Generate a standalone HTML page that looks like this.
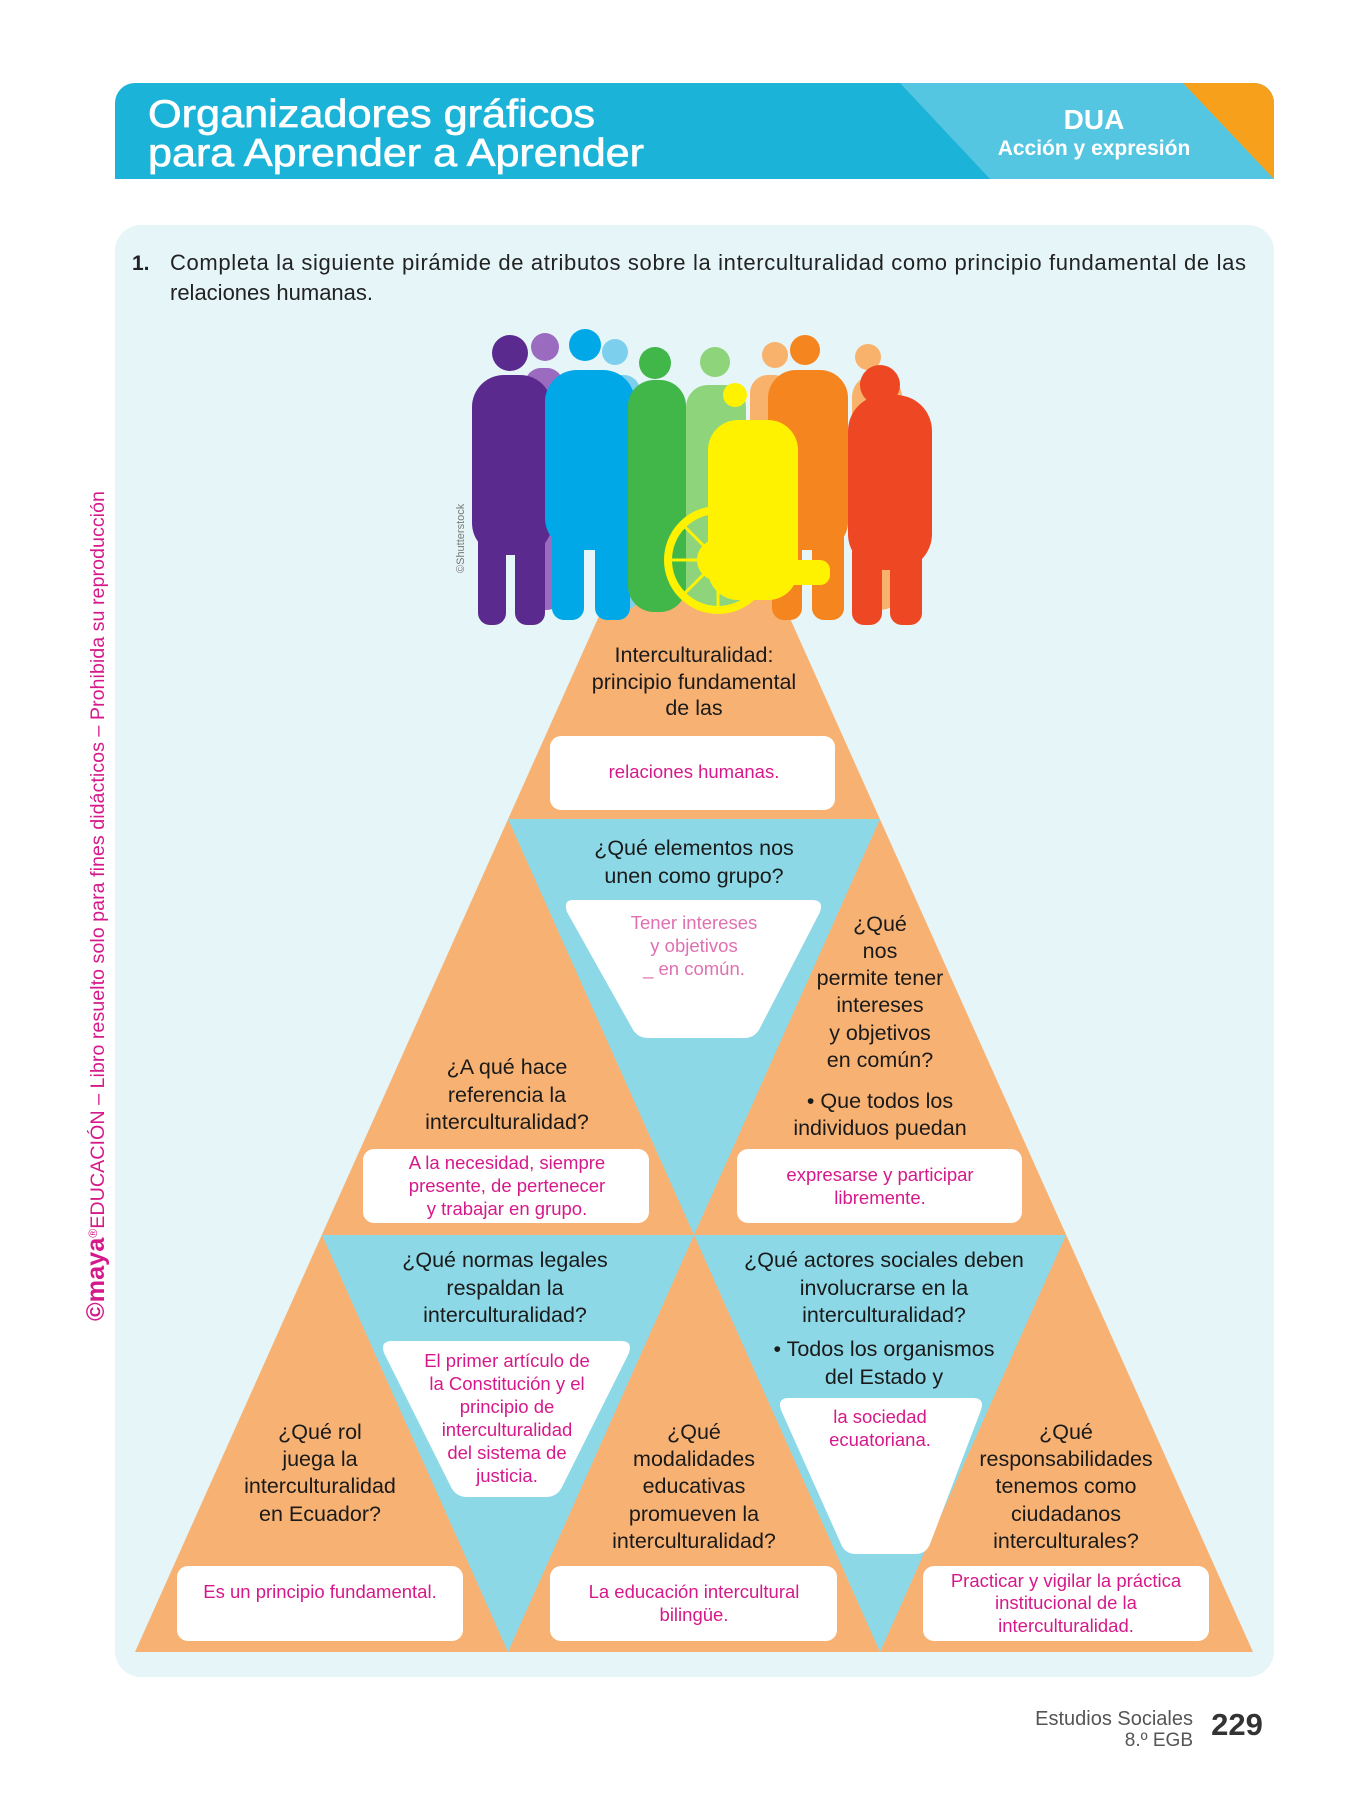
<!DOCTYPE html>
<html><head><meta charset="utf-8"><style>
html,body{margin:0;padding:0;background:#fff;}
svg{display:block;}
text{font-family:"Liberation Sans",sans-serif;}
</style></head><body>
<svg width="1350" height="1800" viewBox="0 0 1350 1800" xmlns="http://www.w3.org/2000/svg">
<defs><clipPath id="hc"><path d="M115,103 a20,20 0 0 1 20,-20 H1254 a20,20 0 0 1 20,20 V179 H115 Z"/></clipPath></defs>
<g clip-path="url(#hc)">
<rect x="115" y="83" width="1159" height="96" fill="#1cb3d8"/>
<polygon points="900,83 1274,83 1274,179 990,179" fill="#55c6e2"/>
<polygon points="1183,83 1274,83 1274,179" fill="#f7a01c"/>
</g>
<text x="148" y="127" font-size="39" fill="#fff" stroke="#fff" stroke-width="0.7" textLength="447" lengthAdjust="spacingAndGlyphs">Organizadores gráficos</text>
<text x="148" y="166" font-size="39" fill="#fff" stroke="#fff" stroke-width="0.7" textLength="496" lengthAdjust="spacingAndGlyphs">para Aprender a Aprender</text>
<text x="1094" y="129" font-size="28" fill="#fff" font-weight="bold" text-anchor="middle">DUA</text>
<text x="1094" y="155" font-size="21" fill="#fff" font-weight="bold" text-anchor="middle">Acción y expresión</text>
<rect x="115" y="225" width="1159" height="1452" rx="26" fill="#e6f5f8"/>
<text x="132" y="270" font-size="21" fill="#222" font-weight="bold">1.</text>
<text x="170" y="270" font-size="22" fill="#222" textLength="1076" lengthAdjust="spacing">Completa la siguiente pirámide de atributos sobre la interculturalidad como principio fundamental de las</text>
<text x="170" y="300" font-size="22" fill="#222">relaciones humanas.</text>
<text transform="translate(104,1321) rotate(-90)" font-size="19.5" fill="#d6198a" textLength="830" lengthAdjust="spacingAndGlyphs"><tspan font-weight="bold" font-size="25">©maya</tspan><tspan font-size="12" dy="-7">®</tspan><tspan dy="7">EDUCACIÓN – Libro resuelto solo para fines didácticos – Prohibida su reproducción</tspan></text>
<polygon points="694,404 135,1652 1253,1652" fill="#f7b273"/>
<polygon points="508,819 880,819 694,1235" fill="#8dd8e6"/>
<polygon points="322,1235 694,1235 508,1652" fill="#8dd8e6"/>
<polygon points="694,1235 1066,1235 880,1652" fill="#8dd8e6"/>
<rect x="550" y="736" width="285" height="74" rx="11" fill="#fff"/>
<path d="M573,900 H812 Q824,900 820,912 L760,1028 Q755,1038 744,1038 H648 Q637,1038 632,1028 L567,912 Q563,900 573,900 Z" fill="#fff"/>
<rect x="363" y="1149" width="286" height="74" rx="11" fill="#fff"/>
<rect x="737" y="1149" width="285" height="74" rx="11" fill="#fff"/>
<path d="M392,1341 H621 Q633,1341 629,1353 L562,1487 Q557,1497 546,1497 H467 Q456,1497 451,1487 L384,1353 Q380,1341 392,1341 Z" fill="#fff"/>
<path d="M789,1398 H973 Q985,1398 981,1410 L930,1544 Q926,1554 915,1554 H856 Q845,1554 841,1544 L781,1410 Q777,1398 789,1398 Z" fill="#fff"/>
<rect x="177" y="1566" width="286" height="75" rx="11" fill="#fff"/>
<rect x="550" y="1566" width="287" height="75" rx="11" fill="#fff"/>
<rect x="923" y="1566" width="286" height="75" rx="11" fill="#fff"/>
<g>
<circle cx="868" cy="357" r="13" fill="#f9b26b"/><rect x="852" y="375" width="50" height="235" rx="22" fill="#f9b26b"/>
<circle cx="775" cy="355" r="13" fill="#f9b26b"/><rect x="750" y="375" width="42" height="230" rx="18" fill="#f9b26b"/>
<circle cx="545" cy="347" r="14" fill="#9b6bc0"/><rect x="525" y="368" width="38" height="242" rx="16" fill="#9b6bc0"/>
<circle cx="615" cy="352" r="13" fill="#7dcfee"/><rect x="600" y="375" width="40" height="235" rx="16" fill="#7dcfee"/>
<circle cx="715" cy="362" r="15" fill="#8ed47a"/><rect x="686" y="385" width="60" height="225" rx="22" fill="#8ed47a"/>
<circle cx="510" cy="353" r="18" fill="#5b2a8e"/><rect x="472" y="375" width="80" height="180" rx="32" fill="#5b2a8e"/>
<rect x="478" y="520" width="28" height="105" rx="12" fill="#5b2a8e"/><rect x="515" y="520" width="30" height="105" rx="12" fill="#5b2a8e"/>
<circle cx="585" cy="345" r="16" fill="#00a8e8"/><rect x="545" y="370" width="90" height="180" rx="32" fill="#00a8e8"/>
<rect x="552" y="520" width="32" height="100" rx="12" fill="#00a8e8"/><rect x="595" y="520" width="35" height="100" rx="12" fill="#00a8e8"/>
<circle cx="655" cy="363" r="16" fill="#41b649"/><rect x="628" y="380" width="58" height="232" rx="26" fill="#41b649"/>
<circle cx="805" cy="350" r="15" fill="#f5851f"/><rect x="768" y="370" width="80" height="180" rx="28" fill="#f5851f"/>
<rect x="772" y="520" width="30" height="100" rx="12" fill="#f5851f"/><rect x="812" y="520" width="32" height="100" rx="12" fill="#f5851f"/>
<circle cx="880" cy="385" r="20" fill="#ee4723"/><rect x="848" y="395" width="84" height="175" rx="36" fill="#ee4723"/>
<rect x="852" y="540" width="30" height="85" rx="12" fill="#ee4723"/><rect x="890" y="540" width="32" height="85" rx="12" fill="#ee4723"/>
<circle cx="735" cy="395" r="12" fill="#fff200"/><rect x="708" y="420" width="90" height="180" rx="30" fill="#fff200"/>
<rect x="740" y="560" width="90" height="25" rx="10" fill="#fff200"/>
<circle cx="718" cy="560" r="50" fill="none" stroke="#fff200" stroke-width="8"/>
<circle cx="718" cy="560" r="21" fill="#fff200"/>
<g stroke="#fff200" stroke-width="3"><line x1="668" y1="560" x2="768" y2="560"/><line x1="718" y1="510" x2="718" y2="610"/><line x1="683" y1="525" x2="753" y2="595"/><line x1="753" y1="525" x2="683" y2="595"/></g>
<text transform="translate(464,573) rotate(-90)" font-size="11" fill="#777">©Shutterstock</text>
</g>
<g font-size="21.5" fill="#1a1a1a" text-anchor="middle">
<text x="694" y="662">Interculturalidad:</text>
<text x="694" y="689">principio fundamental</text>
<text x="694" y="715">de las</text>
<text x="694" y="855">¿Qué elementos nos</text>
<text x="694" y="883">unen como grupo?</text>
<text x="880" y="931">¿Qué</text><text x="880" y="958">nos</text><text x="880" y="985">permite tener</text><text x="880" y="1012">intereses</text><text x="880" y="1040">y objetivos</text><text x="880" y="1067">en común?</text>
<text x="880" y="1108">• Que todos los</text><text x="880" y="1135">individuos puedan</text>
<text x="507" y="1074">¿A qué hace</text><text x="507" y="1102">referencia la</text><text x="507" y="1129">interculturalidad?</text>
<text x="505" y="1267">¿Qué normas legales</text><text x="505" y="1295">respaldan la</text><text x="505" y="1322">interculturalidad?</text>
<text x="884" y="1267">¿Qué actores sociales deben</text><text x="884" y="1295">involucrarse en la</text><text x="884" y="1322">interculturalidad?</text>
<text x="884" y="1356">• Todos los organismos</text><text x="884" y="1384">del Estado y</text>
<text x="320" y="1439">¿Qué rol</text><text x="320" y="1466">juega la</text><text x="320" y="1493">interculturalidad</text><text x="320" y="1521">en Ecuador?</text>
<text x="694" y="1439">¿Qué</text><text x="694" y="1466">modalidades</text><text x="694" y="1493">educativas</text><text x="694" y="1521">promueven la</text><text x="694" y="1548">interculturalidad?</text>
<text x="1066" y="1439">¿Qué</text><text x="1066" y="1466">responsabilidades</text><text x="1066" y="1493">tenemos como</text><text x="1066" y="1521">ciudadanos</text><text x="1066" y="1548">interculturales?</text>
</g>
<g font-size="18.5" fill="#d6198a" text-anchor="middle">
<text x="694" y="778">relaciones humanas.</text>
<g fill="#e070b0"><text x="694" y="929">Tener intereses</text><text x="694" y="952">y objetivos</text><text x="694" y="975">_ en común.</text></g>
<text x="880" y="1181">expresarse y participar</text><text x="880" y="1204">libremente.</text>
<text x="507" y="1169">A la necesidad, siempre</text><text x="507" y="1192">presente, de pertenecer</text><text x="507" y="1215">y trabajar en grupo.</text>
<text x="507" y="1367">El primer artículo de</text><text x="507" y="1390">la Constitución y el</text><text x="507" y="1413">principio de</text><text x="507" y="1436">interculturalidad</text><text x="507" y="1459">del sistema de</text><text x="507" y="1482">justicia.</text>
<text x="880" y="1423">la sociedad</text><text x="880" y="1446">ecuatoriana.</text>
<text x="320" y="1598">Es un principio fundamental.</text>
<text x="694" y="1598">La educación intercultural</text><text x="694" y="1621">bilingüe.</text>
<text x="1066" y="1587">Practicar y vigilar la práctica</text><text x="1066" y="1609">institucional de la</text><text x="1066" y="1632">interculturalidad.</text>
</g>
<text x="1193" y="1725" font-size="20" fill="#555" text-anchor="end">Estudios Sociales</text>
<text x="1193" y="1746" font-size="19" fill="#555" text-anchor="end">8.º EGB</text>
<text x="1237" y="1735" font-size="31" fill="#333" font-weight="bold" text-anchor="middle">229</text>
</svg>
</body></html>
